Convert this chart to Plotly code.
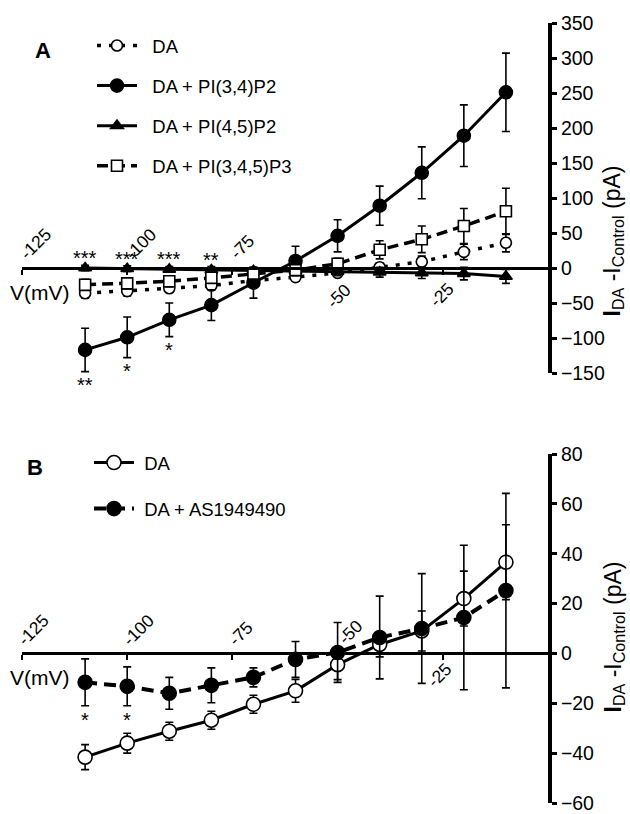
import plotly.graph_objects as go

# ---------------- data ----------------
V = [-110, -100, -90, -80, -70, -60, -50, -40, -30, -20, -10]

# Panel A
da_A = [-36, -33, -29, -25, -18, -13, -7, 1, 9, 23, 36]
da_A_err = [7, 7, 6, 6, 6, 5, 5, 6, 8, 11, 13]
pi34 = [-117, -99, -74, -53, -21, 10, 46, 89, 136, 189, 251]
pi34_err = [31, 29, 24, 22, 22, 21, 23, 28, 37, 44, 56]
pi45 = [0, -1, -2, -3, -4, -4, -5, -6, -7, -8, -12]
pi45_err = [4, 4, 4, 5, 5, 5, 6, 7, 8, 9, 10]
pi345 = [-24, -22, -19, -14, -8, -3, 6, 26, 41, 60, 81]
pi345_err = [8, 8, 8, 8, 7, 7, 8, 13, 19, 25, 33]

sig_pi45 = ["***", "***", "***", "**", "", "", "", "", "", "", ""]
sig_pi34 = ["**", "*", "*", "", "", "", "", "", "", "", ""]

# Panel B
da_B = [-41.6, -36, -31.2, -26.8, -20.4, -15, -4.5, 3.6, 9, 22, 36.6]
da_B_err = [5, 4, 3.6, 3.6, 3.6, 4.6, 6, 5, 8, 11, 15]
as_B = [-11.6, -13.2, -16, -12.8, -9.6, -2.4, 0.4, 6.4, 10, 14.4, 25.2]
as_B_err = [9.4, 7.8, 6.4, 7, 3.8, 7.2, 12, 16.6, 22, 29, 39]
sig_as = ["*", "*", "", "", "", "", "", "", "", "", ""]

x_ticks = [-125, -100, -75, -50, -25]
yA_ticks = [-150, -100, -50, 0, 50, 100, 150, 200, 250, 300, 350]
yB_ticks = [-60, -40, -20, 0, 20, 40, 60, 80]

FONT = "Liberation Sans, Arial, sans-serif"
W, H = 630, 814

# ---------------- layout geometry ----------------
xdom = [22 / W, 548 / W]
yA_dom = [1 - 373 / H, 1 - 23 / H]
yB_dom = [1 - 803 / H, 1 - 454 / H]
xr = [-125, 0]
yA_r = [-150, 350]
yB_r = [-60, 80]


def zero_pos(dom, rng):
    return dom[0] + (0 - rng[0]) / (rng[1] - rng[0]) * (dom[1] - dom[0])


fig = go.Figure()


def err(arr):
    return dict(type="data", array=arr, visible=True, color="black",
                thickness=1.6, width=4)


def add(x, y, e, name, symbol, fill, dash, lw, size, xa, ya, legend):
    fig.add_trace(go.Scatter(
        x=x, y=y, name=name, mode="lines+markers",
        line=dict(color="black", width=lw, dash=dash),
        marker=dict(symbol=symbol, size=size, color=fill,
                    line=dict(color="black", width=1.6)),
        error_y=err(e), xaxis=xa, yaxis=ya, legend=legend,
        legendgroup=name + legend))


PAD_A = "\u00a0\u00a0"
PAD_B = "\u00a0"

# Panel A traces
add(V, da_A, da_A_err, PAD_A + "DA", "circle", "white", "4px,8px", 3.5, 11, "x", "y", "legend")
add(V, pi34, pi34_err, PAD_A + "DA + PI(3,4)P2", "circle", "black", "solid", 3, 13, "x", "y", "legend")
add(V, pi45, pi45_err, PAD_A + "DA + PI(4,5)P2", "triangle-up", "black", "solid", 3, 11, "x", "y", "legend")
add(V, pi345, pi345_err, PAD_A + "DA + PI(3,4,5)P3", "square", "white", "11px,6px", 3.5, 11, "x", "y", "legend")

# Panel B traces
add(V, da_B, da_B_err, PAD_B + "DA", "circle", "white", "solid", 3, 14, "x2", "y2", "legend2")
add(V, as_B, as_B_err, PAD_B + "DA + AS1949490", "circle", "black", "12px,7px", 4, 14, "x2", "y2", "legend2")

annotations = []

# significance marks
for xv, yv, ev, s in zip(V, pi45, pi45_err, sig_pi45):
    if s:
        annotations.append(dict(x=xv, y=yv, xref="x", yref="y", text=s, showarrow=False,
                                yshift=10, font=dict(size=20, family=FONT)))
for xv, yv, ev, s in zip(V, pi34, pi34_err, sig_pi34):
    if s:
        annotations.append(dict(x=xv, y=yv - ev, xref="x", yref="y", text=s, showarrow=False,
                                yshift=-13, font=dict(size=20, family=FONT)))
for xv, yv, ev, s in zip(V, as_B, as_B_err, sig_as):
    if s:
        annotations.append(dict(x=xv, y=yv - ev, xref="x2", yref="y2", text=s, showarrow=False,
                                yshift=-14, font=dict(size=20, family=FONT)))

# x tick labels (rotated), some above, some below the zero line: (side, xshift, yshift)
A_lab = {-125: ("up", -9, 2), -100: ("up", -9, 2), -75: ("up", -9, 2),
         -50: ("down", -18, -9), -25: ("down", -20, -8)}
B_lab = {-125: ("up", -11, 1), -100: ("up", -11, 1), -75: ("up", -11, 1),
         -50: ("up", -6, 2), -25: ("down", -22, -3)}
for xa, ya, labs in (("x", "y", A_lab), ("x2", "y2", B_lab)):
    for t in x_ticks:
        side, dx, dy = labs[t]
        annotations.append(dict(x=t, y=0, xref=xa, yref=ya, text=str(t), showarrow=False,
                                textangle=-45, xanchor="left",
                                yanchor="bottom" if side == "up" else "top",
                                xshift=dx, yshift=dy, font=dict(size=17.5, family=FONT)))
    annotations.append(dict(x=-125, y=0, xref=xa, yref=ya, text="V(mV)", showarrow=False,
                            xanchor="left", yanchor="top", xshift=-14, yshift=-11,
                            font=dict(size=21, family=FONT)))

# panel letters
annotations.append(dict(x=33 / W, y=1 - 50 / H, xref="paper", yref="paper", text="<b>A</b>",
                        showarrow=False, xanchor="left", yanchor="middle",
                        font=dict(size=22, family=FONT)))
annotations.append(dict(x=25 / W, y=1 - 467 / H, xref="paper", yref="paper", text="<b>B</b>",
                        showarrow=False, xanchor="left", yanchor="middle",
                        font=dict(size=22, family=FONT)))

# y axis titles
ytitle = "<b>I</b><sub>DA</sub> -I<sub>Control</sub> (pA)"
annotations.append(dict(x=1.0, y=1 - 241 / H, xref="paper", yref="paper", text=ytitle,
                        showarrow=False, textangle=-90, xanchor="right", yanchor="middle",
                        font=dict(size=23, family=FONT)))
annotations.append(dict(x=1.0, y=1 - 637 / H, xref="paper", yref="paper", text=ytitle,
                        showarrow=False, textangle=-90, xanchor="right", yanchor="middle",
                        font=dict(size=23, family=FONT)))

xcommon = dict(range=xr, showgrid=False, zeroline=False, showline=True, linecolor="black",
               linewidth=3, ticks="outside", ticklen=5, tickwidth=2, tickcolor="black",
               tickvals=x_ticks, showticklabels=False, domain=xdom, anchor="free")
ycommon = dict(showgrid=False, zeroline=False, showline=True, linecolor="black", linewidth=4,
               ticks="outside", ticklen=5, tickwidth=3, tickcolor="black", side="right",
               tickfont=dict(size=19.5, family=FONT, color="black"), automargin=False)

fig.update_layout(
    width=W, height=H, margin=dict(l=0, r=0, t=0, b=0),
    plot_bgcolor="white", paper_bgcolor="white",
    font=dict(family=FONT, color="black", size=17),
    xaxis=dict(**xcommon, position=zero_pos(yA_dom, yA_r)),
    yaxis=dict(**ycommon, range=yA_r, domain=yA_dom, tickvals=yA_ticks, anchor="x"),
    xaxis2=dict(**xcommon, position=zero_pos(yB_dom, yB_r)),
    yaxis2=dict(**ycommon, range=yB_r, domain=yB_dom, tickvals=yB_ticks, anchor="x2"),
    showlegend=True,
    legend=dict(x=92 / W, y=1 - 27 / H, xanchor="left", yanchor="top",
                bgcolor="rgba(0,0,0,0)", font=dict(size=18.5, family=FONT),
                tracegroupgap=13, itemwidth=40),
    legend2=dict(x=89 / W, y=1 - 444 / H, xanchor="left", yanchor="top",
                 bgcolor="rgba(0,0,0,0)", font=dict(size=18.5, family=FONT),
                 tracegroupgap=19, itemwidth=40),
    annotations=annotations,
)

fig.write_html("out.html", config={"displayModeBar": False},
               post_script="document.body.style.margin='0';document.body.style.overflow='hidden';")
